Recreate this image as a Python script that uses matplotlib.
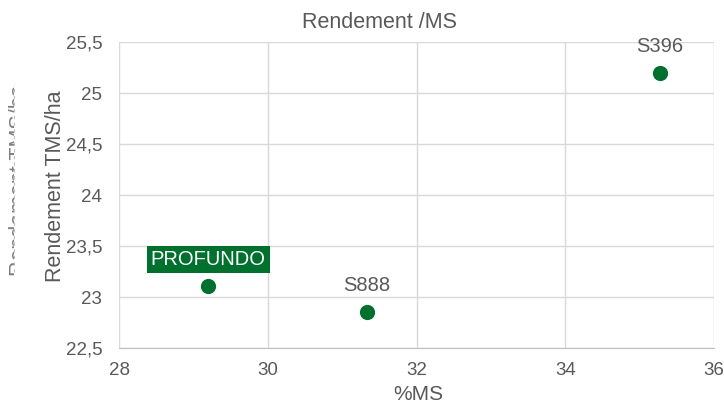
import matplotlib.pyplot as plt
from matplotlib.patches import Rectangle
from matplotlib.lines import Line2D
from matplotlib.ticker import FuncFormatter

plt.rcParams['font.family'] = ['Liberation Sans', 'DejaVu Sans']

names = ['PROFUNDO', 'S888', 'S396']
ms = [29.2, 31.33, 35.27]
rendement = [23.11, 22.85, 25.2]
x_ticks = [28, 30, 32, 34, 36]
y_ticks = [22.5, 23, 23.5, 24, 24.5, 25, 25.5]

green = '#00702E'
grey = '#595959'

fig = plt.figure(figsize=(7.24, 4.05), dpi=100)
ax = fig.add_axes([119 / 724, 1 - 348 / 405, (714 - 119) / 724, (348 - 42) / 405])

ax.scatter(ms, rendement, s=120, color=green, zorder=3, linewidths=0)

ax.set_xlim(28, 36)
ax.set_ylim(22.5, 25.5)
ax.set_xticks(x_ticks)
ax.set_yticks(y_ticks)
ax.yaxis.set_major_formatter(FuncFormatter(lambda v, p: ('%g' % v).replace('.', ',')))
ax.tick_params(length=0, labelsize=13.5, labelcolor=grey)
ax.tick_params(axis='y', pad=12)
ax.tick_params(axis='x', pad=10)
ax.grid(color='#D9D9D9', linewidth=1)
ax.set_axisbelow(True)
for s in ['left', 'right', 'top']:
    ax.spines[s].set_visible(False)
ax.spines['bottom'].set_color('#BFBFBF')

# data labels
for n, x, y in zip(names, ms, rendement):
    if n == 'PROFUNDO':
        ax.annotate(n, (x, y), xytext=(0, 19), textcoords='offset points',
                    ha='center', va='center', fontsize=14.5, color='white',
                    bbox=dict(boxstyle='square,pad=0.2', fc=green, ec='none'))
    else:
        ax.annotate(n, (x, y), xytext=(0, 19), textcoords='offset points',
                    ha='center', va='center', fontsize=14.5, color=grey)

fig.text(380 / 724, 1 - 23 / 405, 'Rendement /MS', ha='center', va='center',
         fontsize=15.5, color=grey)
fig.text(418 / 724, 1 - 394 / 405, '%MS', ha='center', va='center',
         fontsize=15, color=grey)
fig.text(56 / 724, 1 - 186 / 405, 'Rendement TMS/ha', ha='center', va='center',
         rotation=90, fontsize=15.5, color=grey)

# ghost label on the left, mostly hidden behind a white box
fig.text(9 / 724, 1 - 180 / 405, 'Rendement TMS/ha', ha='left', va='center',
         rotation=90, fontsize=15.5, color='#7F7F7F', zorder=1)
fig.add_artist(Rectangle((14 / 724, 0), 22 / 724, 1, transform=fig.transFigure,
                         fc='white', ec='none', zorder=10))
fig.add_artist(Line2D([14 / 724, 14 / 724], [1 - 272 / 405, 1 - 85 / 405],
                      transform=fig.transFigure, color='#BFBFBF', lw=0.8,
                      ls=(0, (3, 3)), zorder=11))

fig.savefig('out.png', dpi=100)
